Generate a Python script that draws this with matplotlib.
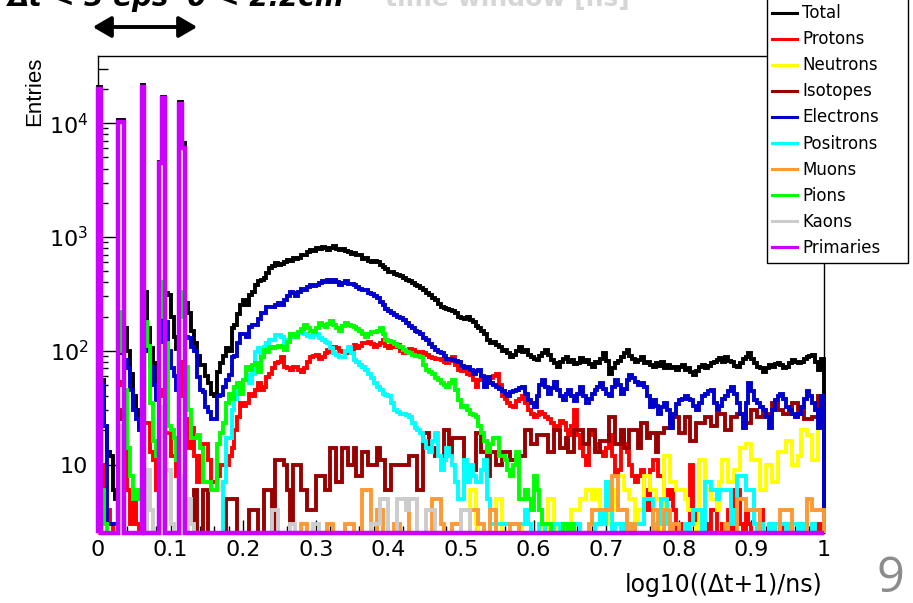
import numpy as np
import matplotlib
matplotlib.use("Agg")
import matplotlib.pyplot as plt
from matplotlib.patches import Rectangle, FancyArrowPatch
from matplotlib.lines import Line2D
from matplotlib.ticker import FixedLocator, FixedFormatter, LogLocator, NullFormatter, MultipleLocator

# ---------------- data ----------------
N_BINS = 250
X_RANGE = (0.0, 1.0)
Y_RANGE = (2.5, 39000)

series_names = ["Total", "Protons", "Neutrons", "Isotopes", "Electrons",
                "Positrons", "Muons", "Pions", "Kaons", "Primaries"]
series_colors = ["#000000", "#ff0000", "#ffff00", "#990000", "#0000cc",
                 "#00ffff", "#ff9933", "#00ff00", "#cccccc", "#cc00ff"]

x_tick_values = [0.0, 0.1, 0.2, 0.3, 0.4, 0.5, 0.6, 0.7, 0.8, 0.9, 1.0]
x_tick_labels = ["0", "0.1", "0.2", "0.3", "0.4", "0.5", "0.6", "0.7", "0.8", "0.9", "1"]
y_tick_values = [10, 100, 1000, 10000]
y_tick_labels = ["10", "$10^{2}$", "$10^{3}$", "$10^{4}$"]

total = [
    20900, 55, 22, 13, 12, 6, 5, 10600, 10700, 160,
    100, 62, 40, 30, 22, 21600, 330, 160, 105, 78,
    45, 4600, 17100, 320, 310, 200, 133, 104, 15400, 6640,
    263, 215, 150, 117, 90, 75, 75, 60, 52, 42,
    40, 65, 78, 90, 105, 100, 160, 170, 210, 250,
    280, 250, 310, 330, 380, 410, 415, 440, 480, 530,
    560, 590, 570, 575, 600, 630, 610, 650, 640, 660,
    700, 690, 740, 770, 750, 800, 780, 820, 800, 770,
    800, 830, 790, 770, 780, 760, 740, 710, 720, 690,
    700, 640, 650, 620, 600, 610, 600, 570, 545, 520,
    495, 490, 470, 460, 450, 435, 420, 410, 395, 380,
    370, 355, 342, 320, 308, 290, 277, 260, 244, 240,
    235, 230, 225, 215, 200, 195, 190, 200, 185, 178,
    165, 160, 150, 140, 125, 116, 120, 112, 108, 100,
    101, 95, 88, 92, 100, 108, 98, 101, 92, 88,
    85, 83, 90, 95, 101, 92, 83, 78, 72, 80,
    84, 88, 80, 83, 76, 78, 86, 80, 83, 76,
    72, 80, 78, 85, 95, 82, 63, 70, 78, 82,
    88, 95, 101, 90, 85, 80, 83, 88, 78, 80,
    75, 72, 78, 74, 80, 70, 75, 70, 72, 68,
    72, 75, 68, 70, 65, 61, 66, 72, 75, 70,
    74, 78, 80, 83, 86, 80, 88, 82, 80, 74,
    72, 78, 85, 88, 95, 85, 78, 72, 70, 65,
    70, 75, 72, 76, 78, 75, 70, 72, 78, 83,
    80, 78, 80, 85, 88, 90, 92, 80, 68, 85,
]

protons = [
    50, 10, 4, 4, 3, 2, 0, 50, 53, 14,
    6, 3, 5, 3, 2, 30, 23, 23, 13, 11,
    6, 40, 45, 19, 19, 12, 12, 8, 40, 80,
    25, 14, 21, 12, 7, 12, 15, 15, 11, 7,
    7, 8, 10, 10, 10, 12, 14, 20, 26, 35,
    33, 35, 42, 40, 45, 52, 45, 48, 59, 62,
    70, 78, 80, 88, 72, 70, 68, 72, 72, 68,
    65, 70, 80, 88, 90, 92, 85, 88, 95, 101,
    98, 108, 105, 100, 98, 96, 95, 100, 112, 105,
    110, 116, 118, 120, 115, 108, 112, 118, 124, 110,
    105, 110, 108, 112, 100, 95, 98, 104, 101, 96,
    98, 97, 95, 92, 88, 86, 85, 84, 83, 80,
    78, 82, 88, 75, 68, 66, 68, 62, 61, 55,
    48, 55, 59, 56, 52, 58, 60, 63, 50, 40,
    38, 35, 33, 32, 36, 38, 40, 35, 30, 28,
    26, 27, 29, 28, 26, 25, 23, 21, 22, 24,
    23, 20, 18, 22, 30, 18, 14, 12, 10, 20,
    18, 15, 14, 13, 12, 14, 18, 12, 8, 9,
    18, 15, 13, 10, 8, 7, 8, 9, 6, 4,
    9, 11, 11, 8, 8, 6, 5, 6, 4, 2,
    3, 0, 2, 3, 10, 4, 3, 0, 2, 3,
    2, 4, 4, 2, 0, 3, 2, 4, 2, 6,
    6, 3, 2, 4, 3, 0, 2, 3, 4, 2,
    0, 2, 3, 0, 2, 3, 2, 0, 3, 2,
    0, 2, 3, 3, 2, 0, 3, 2, 3, 2,
]

neutrons = [
    0, 0, 0, 0, 0, 0, 0, 0, 0, 0,
    0, 0, 0, 0, 0, 0, 0, 0, 0, 0,
    0, 0, 0, 0, 0, 0, 0, 0, 0, 0,
    0, 0, 0, 0, 0, 0, 0, 0, 0, 0,
    0, 0, 0, 0, 0, 0, 0, 0, 0, 0,
    0, 0, 0, 0, 0, 0, 0, 0, 0, 0,
    0, 0, 0, 0, 0, 0, 0, 0, 0, 0,
    0, 0, 0, 0, 0, 0, 0, 0, 0, 0,
    0, 0, 0, 0, 0, 0, 0, 0, 0, 0,
    0, 0, 0, 0, 0, 0, 0, 0, 0, 0,
    0, 0, 0, 0, 0, 0, 0, 0, 0, 0,
    0, 0, 0, 0, 0, 0, 0, 0, 0, 0,
    0, 0, 0, 0, 0, 0, 0, 0, 6, 6,
    3, 0, 0, 0, 0, 0, 0, 5, 5, 0,
    0, 0, 0, 0, 0, 3, 0, 0, 0, 0,
    0, 0, 0, 3, 0, 5, 5, 3, 0, 0,
    0, 0, 3, 4, 4, 4, 5, 5, 6, 6,
    5, 6, 6, 4, 3, 4, 3, 4, 6, 8,
    8, 6, 6, 5, 5, 3, 4, 4, 8, 8,
    6, 6, 5, 5, 0, 12, 12, 7, 7, 6,
    6, 6, 5, 4, 4, 3, 0, 11, 11, 6,
    6, 5, 5, 4, 7, 11, 11, 7, 7, 9,
    9, 14, 14, 15, 15, 11, 11, 11, 6, 6,
    10, 10, 7, 7, 13, 13, 13, 16, 16, 10,
    10, 12, 20, 20, 18, 18, 11, 11, 21, 21,
]

isotopes = [
    0, 0, 0, 0, 0, 0, 0, 30, 25, 0,
    0, 0, 0, 0, 0, 0, 0, 0, 0, 0,
    0, 0, 5, 0, 0, 0, 0, 0, 0, 0,
    0, 0, 0, 6, 0, 0, 6, 6, 0, 0,
    0, 0, 0, 0, 5, 5, 5, 5, 0, 0,
    0, 0, 4, 4, 4, 0, 0, 6, 6, 6,
    0, 11, 11, 11, 10, 6, 3, 10, 10, 10,
    6, 6, 4, 4, 4, 8, 8, 8, 6, 6,
    14, 14, 7, 7, 14, 14, 10, 10, 14, 8,
    8, 13, 13, 10, 10, 10, 14, 11, 11, 6,
    6, 10, 10, 10, 10, 10, 10, 12, 12, 12,
    6, 6, 19, 19, 14, 14, 12, 12, 12, 20,
    20, 12, 17, 17, 17, 17, 9, 9, 9, 9,
    19, 19, 13, 13, 8, 13, 13, 10, 10, 13,
    13, 13, 11, 11, 12, 12, 12, 20, 20, 15,
    15, 18, 18, 18, 18, 13, 13, 20, 20, 14,
    14, 17, 13, 13, 20, 20, 20, 15, 15, 20,
    20, 13, 13, 16, 16, 16, 26, 26, 15, 15,
    20, 14, 14, 20, 20, 20, 14, 23, 23, 17,
    19, 19, 13, 19, 19, 21, 21, 26, 26, 26,
    19, 19, 26, 26, 16, 16, 23, 23, 23, 26,
    26, 22, 22, 28, 28, 28, 20, 20, 26, 26,
    28, 28, 28, 23, 23, 30, 30, 26, 26, 28,
    28, 28, 35, 35, 30, 30, 28, 28, 28, 35,
    35, 30, 30, 25, 25, 25, 26, 26, 40, 40,
]

electrons = [
    300, 50, 22, 3, 3, 3, 3, 95, 98, 83,
    70, 45, 30, 25, 20, 110, 180, 100, 72, 50,
    37, 120, 200, 180, 100, 70, 60, 45, 300, 250,
    133, 130, 108, 100, 59, 45, 43, 32, 29, 25,
    25, 40, 41, 48, 55, 61, 88, 90, 116, 140,
    140, 133, 163, 170, 170, 190, 215, 215, 244, 244,
    244, 250, 262, 255, 277, 300, 330, 320, 305, 330,
    350, 340, 360, 380, 370, 380, 395, 410, 400, 415,
    405, 418, 400, 380, 395, 410, 390, 385, 380, 360,
    350, 345, 342, 320, 315, 305, 290, 270, 255, 235,
    225, 215, 205, 200, 196, 185, 175, 165, 157, 150,
    145, 140, 130, 124, 115, 108, 102, 98, 95, 90,
    85, 84, 83, 82, 80, 74, 70, 72, 68, 63,
    66, 68, 60, 48, 59, 52, 50, 48, 46, 44,
    42, 40, 43, 44, 45, 47, 48, 42, 37, 35,
    32, 40, 50, 55, 48, 42, 47, 53, 45, 40,
    37, 42, 45, 40, 36, 42, 48, 40, 35, 38,
    42, 45, 48, 52, 46, 42, 40, 48, 55, 50,
    42, 46, 55, 61, 58, 53, 50, 52, 48, 40,
    32, 37, 33, 28, 32, 35, 30, 21, 28, 34,
    37, 38, 40, 38, 37, 33, 30, 35, 40, 42,
    44, 45, 35, 30, 33, 38, 40, 44, 48, 42,
    35, 28, 21, 35, 52, 44, 37, 35, 32, 30,
    26, 21, 30, 37, 40, 42, 38, 32, 30, 28,
    26, 28, 32, 38, 44, 40, 35, 30, 21, 40,
]

positrons = [
    0, 0, 0, 0, 0, 0, 0, 0, 0, 0,
    0, 0, 0, 0, 0, 0, 0, 0, 0, 0,
    0, 0, 0, 0, 0, 0, 0, 0, 0, 3,
    0, 0, 0, 0, 0, 0, 0, 0, 0, 0,
    0, 0, 2, 7, 17, 17, 30, 38, 50, 52,
    55, 61, 52, 62, 98, 105, 88, 108, 116, 124,
    124, 137, 137, 133, 116, 125, 133, 138, 140, 143,
    147, 140, 135, 133, 138, 140, 130, 124, 120, 116,
    105, 95, 92, 88, 88, 100, 108, 95, 83, 80,
    75, 72, 68, 63, 58, 52, 48, 45, 42, 41,
    40, 35, 30, 29, 28, 28, 27, 26, 23, 21,
    20, 19, 16, 14, 13, 16, 19, 12, 9, 11,
    14, 12, 10, 7, 5, 5, 11, 7, 10, 8,
    7, 7, 9, 11, 5, 3, 3, 3, 3, 3,
    3, 3, 3, 3, 3, 3, 3, 4, 3, 0,
    0, 0, 3, 3, 0, 0, 0, 3, 3, 0,
    3, 0, 0, 3, 3, 3, 0, 0, 2, 0,
    0, 3, 3, 4, 3, 7, 4, 0, 3, 3,
    0, 3, 2, 3, 0, 3, 3, 3, 5, 5,
    5, 3, 0, 3, 5, 5, 3, 0, 2, 0,
    0, 2, 3, 0, 3, 4, 4, 4, 0, 7,
    7, 6, 6, 5, 6, 6, 6, 6, 3, 4,
    8, 8, 8, 6, 6, 6, 3, 2, 3, 0,
    2, 3, 0, 3, 3, 3, 3, 2, 3, 3,
    3, 2, 3, 0, 2, 0, 3, 2, 0, 0,
]

muons = [
    0, 0, 0, 0, 0, 0, 0, 0, 0, 0,
    0, 0, 0, 0, 0, 0, 0, 0, 0, 0,
    0, 0, 0, 0, 0, 0, 0, 0, 0, 0,
    0, 0, 0, 0, 0, 0, 0, 0, 0, 0,
    0, 0, 0, 0, 0, 0, 0, 0, 0, 0,
    0, 0, 0, 0, 0, 0, 0, 0, 0, 0,
    0, 0, 0, 0, 0, 0, 0, 0, 0, 0,
    3, 3, 0, 0, 0, 0, 0, 0, 0, 3,
    3, 0, 0, 0, 0, 3, 3, 3, 0, 0,
    0, 6, 6, 6, 0, 0, 4, 4, 0, 0,
    0, 0, 3, 3, 0, 0, 0, 5, 5, 5,
    0, 0, 0, 0, 0, 5, 5, 5, 3, 0,
    0, 0, 3, 3, 3, 0, 0, 0, 4, 4,
    4, 3, 3, 0, 0, 4, 4, 0, 0, 0,
    0, 0, 3, 3, 3, 0, 0, 0, 0, 0,
    0, 0, 0, 0, 0, 0, 0, 0, 0, 0,
    0, 0, 0, 0, 0, 0, 0, 0, 0, 3,
    4, 4, 4, 4, 4, 4, 4, 8, 8, 4,
    4, 4, 0, 0, 3, 0, 0, 0, 0, 0,
    0, 4, 4, 0, 0, 4, 4, 0, 3, 3,
    0, 0, 0, 0, 0, 0, 0, 0, 0, 0,
    0, 0, 0, 0, 0, 0, 3, 0, 0, 0,
    5, 5, 5, 4, 4, 4, 4, 4, 0, 0,
    0, 0, 0, 0, 0, 4, 4, 4, 4, 0,
    0, 0, 0, 0, 5, 5, 4, 4, 4, 4,
]

pions = [
    130, 6, 3, 0, 0, 0, 0, 220, 100, 45,
    14, 8, 5, 6, 5, 150, 180, 110, 35, 16,
    12, 200, 400, 116, 22, 20, 17, 11, 200, 330,
    72, 30, 17, 17, 18, 14, 7, 7, 7, 6,
    6, 15, 19, 23, 35, 42, 38, 48, 52, 42,
    55, 72, 68, 75, 78, 65, 88, 101, 97, 108,
    105, 108, 110, 108, 101, 120, 140, 135, 133, 147,
    155, 168, 160, 150, 147, 160, 175, 170, 163, 172,
    182, 170, 160, 150, 165, 175, 170, 165, 163, 155,
    150, 140, 133, 140, 145, 147, 150, 157, 140, 124,
    122, 120, 115, 110, 108, 102, 98, 95, 92, 90,
    90, 88, 75, 68, 65, 63, 58, 55, 52, 50,
    48, 52, 55, 45, 37, 32, 33, 30, 28, 27,
    26, 22, 19, 16, 13, 15, 17, 17, 12, 12,
    11, 9, 8, 10, 13, 5, 5, 6, 5, 4,
    8, 6, 4, 3, 3, 3, 2, 0, 2, 0,
    3, 3, 0, 3, 0, 0, 0, 0, 0, 0,
    0, 0, 0, 0, 0, 0, 0, 0, 0, 0,
    0, 0, 0, 0, 0, 0, 0, 0, 0, 0,
    0, 0, 0, 0, 0, 0, 0, 0, 0, 0,
    0, 0, 0, 0, 0, 0, 0, 0, 0, 0,
    0, 0, 0, 0, 0, 0, 0, 0, 0, 0,
    0, 0, 0, 0, 0, 0, 0, 0, 0, 0,
    0, 0, 0, 0, 0, 0, 0, 0, 0, 0,
    0, 0, 0, 0, 0, 0, 0, 0, 0, 0,
]

kaons = [
    11, 0, 0, 0, 0, 0, 0, 22, 0, 0,
    0, 0, 0, 0, 0, 0, 0, 9, 4, 0,
    0, 32, 0, 9, 9, 3, 0, 0, 0, 8,
    0, 5, 3, 0, 0, 0, 0, 0, 0, 0,
    0, 0, 0, 0, 0, 0, 0, 0, 0, 0,
    0, 0, 0, 0, 0, 0, 0, 0, 0, 0,
    4, 4, 0, 0, 0, 0, 3, 3, 0, 0,
    0, 0, 0, 0, 3, 3, 0, 0, 0, 0,
    0, 0, 0, 0, 0, 0, 0, 0, 0, 0,
    0, 0, 0, 0, 3, 3, 3, 5, 5, 5,
    0, 0, 0, 5, 5, 5, 4, 5, 5, 5,
    0, 0, 0, 4, 4, 4, 0, 0, 0, 0,
    0, 0, 0, 0, 0, 4, 4, 4, 0, 0,
    0, 0, 0, 0, 0, 0, 0, 0, 0, 0,
    0, 0, 0, 0, 0, 0, 0, 0, 0, 0,
    0, 0, 0, 0, 0, 0, 0, 0, 0, 0,
    0, 0, 0, 0, 0, 0, 0, 0, 0, 0,
    0, 0, 0, 0, 0, 0, 0, 0, 0, 0,
    0, 0, 0, 0, 0, 0, 0, 0, 0, 0,
    0, 0, 0, 0, 0, 0, 0, 0, 0, 0,
    0, 0, 0, 0, 0, 0, 0, 0, 0, 0,
    0, 0, 0, 0, 0, 0, 0, 0, 0, 0,
    0, 0, 0, 0, 0, 0, 0, 0, 0, 0,
    0, 0, 0, 0, 0, 0, 0, 0, 0, 0,
    0, 0, 0, 0, 0, 0, 0, 0, 0, 0,
]

primaries = [
    20200, 0, 0, 0, 0, 0, 0, 10300, 10300, 0,
    0, 0, 0, 0, 0, 20900, 0, 0, 0, 0,
    0, 4430, 16500, 0, 0, 0, 0, 0, 14900, 6040,
    0, 0, 0, 0, 0, 0, 0, 0, 0, 0,
    0, 0, 0, 0, 0, 0, 0, 0, 0, 0,
    0, 0, 0, 0, 0, 0, 0, 0, 0, 0,
    0, 0, 0, 0, 0, 0, 0, 0, 0, 0,
    0, 0, 0, 0, 0, 0, 0, 0, 0, 0,
    0, 0, 0, 0, 0, 0, 0, 0, 0, 0,
    0, 0, 0, 0, 0, 0, 0, 0, 0, 0,
    0, 0, 0, 0, 0, 0, 0, 0, 0, 0,
    0, 0, 0, 0, 0, 0, 0, 0, 0, 0,
    0, 0, 0, 0, 0, 0, 0, 0, 0, 0,
    0, 0, 0, 0, 0, 0, 0, 0, 0, 0,
    0, 0, 0, 0, 0, 0, 0, 0, 0, 0,
    0, 0, 0, 0, 0, 0, 0, 0, 0, 0,
    0, 0, 0, 0, 0, 0, 0, 0, 0, 0,
    0, 0, 0, 0, 0, 0, 0, 0, 0, 0,
    0, 0, 0, 0, 0, 0, 0, 0, 0, 0,
    0, 0, 0, 0, 0, 0, 0, 0, 0, 0,
    0, 0, 0, 0, 0, 0, 0, 0, 0, 0,
    0, 0, 0, 0, 0, 0, 0, 0, 0, 0,
    0, 0, 0, 0, 0, 0, 0, 0, 0, 0,
    0, 0, 0, 0, 0, 0, 0, 0, 0, 0,
    0, 0, 0, 0, 0, 0, 0, 0, 0, 0,
]

series_values = [total, protons, neutrons, isotopes, electrons,
                 positrons, muons, pions, kaons, primaries]

# ---------------- figure ----------------
W, H = 913, 603
plt.rcParams["font.family"] = ["DejaVu Sans"]
plt.rcParams["mathtext.default"] = "regular"

fig = plt.figure(figsize=(W / 100, H / 100), dpi=100)
fig.patch.set_facecolor("white")


def fx(px):
    return px / W


def fy(py):
    return 1 - py / H


ax = fig.add_axes([fx(98), fy(533), fx(824) - fx(98), fy(56) - fy(533)])
ax.set_yscale("log")

edges = np.linspace(X_RANGE[0], X_RANGE[1], N_BINS + 1)
for name, vals, col in zip(series_names, series_values, series_colors):
    if len(vals) != N_BINS:
        raise ValueError(f"{name}: {len(vals)} bins")
    v = np.clip(np.asarray(vals, dtype=float), Y_RANGE[0], Y_RANGE[1])
    lw = 3.2 if name == "Primaries" else 2.8
    ax.stairs(v, edges, baseline=Y_RANGE[0], color=col, lw=lw,
              clip_on=False, zorder=2)

ax.set_xlim(*X_RANGE)
ax.set_ylim(*Y_RANGE)
ax.set_axisbelow(True)
for sp in ax.spines.values():
    sp.set_linewidth(1.0)
    sp.set_zorder(1.5)

ax.xaxis.set_major_locator(FixedLocator(x_tick_values))
ax.xaxis.set_major_formatter(FixedFormatter(x_tick_labels))
ax.xaxis.set_minor_locator(MultipleLocator(0.02))
ax.yaxis.set_major_locator(FixedLocator(y_tick_values))
ax.yaxis.set_major_formatter(FixedFormatter(y_tick_labels))
ax.yaxis.set_minor_locator(LogLocator(base=10, subs=np.arange(2, 10), numticks=30))
ax.yaxis.set_minor_formatter(NullFormatter())

ax.tick_params(axis="x", which="major", direction="in", length=9.5, width=1,
               pad=5, labelsize=16)
ax.tick_params(axis="x", which="minor", direction="in", length=4.7, width=1)
ax.tick_params(axis="y", which="major", direction="in", length=13, width=1,
               pad=7, labelsize=16)
ax.tick_params(axis="y", which="minor", direction="in", length=7, width=1)

# axis titles (ROOT style, at the ends of the axes)
fig.text(fx(822), fy(592), "log10((\u0394t+1)/ns)", ha="right", va="baseline",
         fontsize=17)
fig.text(fx(35), fy(57), "Entries", rotation=90, ha="center", va="top",
         fontsize=16, family=["Liberation Sans", "DejaVu Sans"])

# legend box
fig.add_artist(Rectangle((fx(767), fy(263)), fx(908) - fx(767), fy(-10) - fy(263),
                         transform=fig.transFigure, facecolor="white",
                         edgecolor="black", lw=1.0, zorder=5))
for i, (name, col) in enumerate(zip(series_names, series_colors)):
    yc = 12.7 + 26.07 * i
    fig.add_artist(Line2D([fx(772), fx(797)], [fy(yc), fy(yc)],
                          transform=fig.transFigure, color=col, lw=2.2, zorder=6))
    fig.text(fx(802), fy(yc + 5.5), name, ha="left", va="baseline",
             fontsize=12, zorder=7)

# slide decorations (heading cut off by the top edge, as in the slide)
fig.text(fx(8), fy(6), "\u0394t < 3 eps  \u03b8 < 2.2cm", ha="left", va="baseline",
         fontsize=20, fontweight="bold", fontstyle="italic", color="black")
fig.text(fx(385), fy(6), "time window [ns]", ha="left", va="baseline",
         fontsize=18, fontweight="bold", color="#d6d6d6")
fig.add_artist(FancyArrowPatch((fx(90), fy(27)), (fx(200), fy(27)),
                               transform=fig.transFigure,
                               arrowstyle="<|-|>,head_length=0.55,head_width=0.32",
                               mutation_scale=20, lw=2.8, color="black"))
fig.text(fx(890), fy(592), "9", ha="center", va="baseline", fontsize=35,
         color="#8c8c8c", family=["Open Sans", "DejaVu Sans"])

fig.savefig("out.png", dpi=100, facecolor="white")
